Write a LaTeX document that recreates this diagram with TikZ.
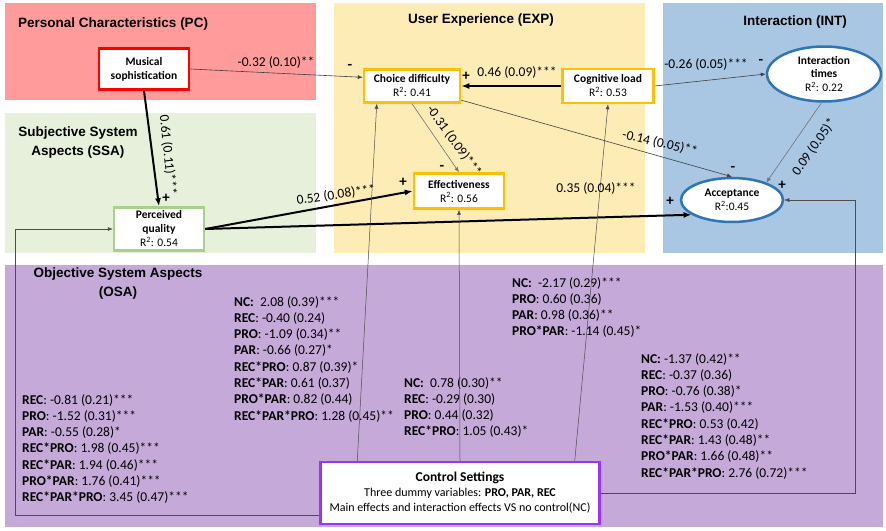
\documentclass[tikz,border=0pt]{standalone}
\usepackage{fontspec}
\setmainfont{Carlito}
\newfontfamily\hdsans{Liberation Sans}
\usetikzlibrary{arrows.meta,shapes.geometric}
\definecolor{pcred}{RGB}{255,155,155}
\definecolor{expyel}{RGB}{253,236,181}
\definecolor{intblue}{RGB}{169,198,226}
\definecolor{ssagreen}{RGB}{231,240,219}
\definecolor{osapurple}{RGB}{197,169,216}
\definecolor{boxorange}{RGB}{255,192,0}
\definecolor{boxgreen}{RGB}{169,209,142}
\definecolor{ellblue}{RGB}{46,117,182}
\definecolor{ctrlpurple}{RGB}{153,51,255}
\tikzset{
  header/.style={font=\hdsans\bfseries\fontsize{13.5}{19}\selectfont, align=center, inner sep=0pt},
  var/.style={rectangle, fill=white, line width=2.5pt, align=center, inner sep=0pt, font=\fontsize{11.5}{14}\selectfont},
  ell/.style={ellipse, draw=ellblue, fill=white, line width=2.5pt, align=center, inner sep=0pt, font=\fontsize{11.5}{14}\selectfont},
  coef/.style={font=\fontsize{13.5}{16}\selectfont, inner sep=0pt},
  sign/.style={font=\bfseries\fontsize{15}{15}\selectfont, inner sep=0pt},
  block/.style={font=\fontsize{13.5}{16.3}\selectfont, align=left, anchor=north west, inner sep=0pt},
  link/.style={-{Latex[length=5pt,width=4pt]}, line width=0.6pt, black!75},
  heavylink/.style={-{Latex[length=8pt,width=6pt]}, line width=2pt},
  ctrllink/.style={-{Latex[length=5pt,width=4pt]}, line width=0.5pt, black!70},
}
\begin{document}
\begin{tikzpicture}[x=1pt,y=-1pt]
\useasboundingbox (0,0) rectangle (886,530);
\fill[pcred] (5,3) rectangle (316,100);
\fill[ssagreen] (5,113) rectangle (316,253);
\fill[expyel] (334,3) rectangle (645,253);
\fill[intblue] (663,3) rectangle (883,253);
\fill[osapurple] (5,265) rectangle (883,527);

\node[header, anchor=west] (pc) at (18,24) {Personal Characteristics (PC)};
\node[header] (exp) at (481,20) {User Experience (EXP)};
\node[header] (int) at (795,22) {Interaction (INT)};
\node[header] (ssa) at (78,143) {Subjective System\\Aspects (SSA)};
\node[header] (osa) at (118,284) {Objective System Aspects\\(OSA)};

\node[var, draw=red, minimum width=90pt, minimum height=41pt, font=\bfseries\fontsize{11.5}{14}\selectfont] (mus) at (144,69) {Musical\\sophistication};
\node[var, draw=boxorange, minimum width=96pt, minimum height=33pt] (choice) at (412,86) {\textbf{Choice difficulty}\\R\textsuperscript{2}: 0.41};
\node[var, draw=boxorange, minimum width=91pt, minimum height=34pt] (cog) at (608,86) {\textbf{Cognitive load}\\R\textsuperscript{2}: 0.53};
\node[var, draw=boxorange, minimum width=90pt, minimum height=35pt] (eff) at (459,191) {\textbf{Effectiveness}\\R\textsuperscript{2}: 0.56};
\node[var, draw=boxgreen, minimum width=90pt, minimum height=43pt] (perc) at (159,229) {\textbf{Perceived}\\\textbf{quality}\\R\textsuperscript{2}: 0.54};
\node[ell, minimum width=114pt, minimum height=55pt] (inter) at (824,74) {\textbf{Interaction}\\\textbf{times}\\R\textsuperscript{2}: 0.22};
\node[ell, minimum width=102pt, minimum height=44pt] (acc) at (732,200) {\textbf{Acceptance}\\R\textsuperscript{2}:0.45};
\node[var, draw=ctrlpurple, minimum width=279pt, minimum height=62pt, font=\fontsize{12}{15}\selectfont] (ctrl) at (460,493) {{\fontsize{13.5}{16}\selectfont\textbf{Control Settings}}\\Three dummy variables: \textbf{PRO, PAR, REC}\\Main effects and interaction effects VS no control(NC)};

\node[block] (osapq) at (22,394) {\textbf{REC}: -0.81 (0.21)***\\\textbf{PRO}: -1.52 (0.31)***\\\textbf{PAR}: -0.55 (0.28)*\\\textbf{REC*PRO}: 1.98 (0.45)***\\\textbf{REC*PAR}: 1.94 (0.46)***\\\textbf{PRO*PAR}: 1.76 (0.41)***\\\textbf{REC*PAR*PRO}: 3.45 (0.47)***};
\node[block] (osacd) at (234,296) {\textbf{NC:}\ \ 2.08 (0.39)***\\\textbf{REC}: -0.40 (0.24)\\\textbf{PRO}: -1.09 (0.34)**\\\textbf{PAR}: -0.66 (0.27)*\\\textbf{REC*PRO}: 0.87 (0.39)*\\\textbf{REC*PAR}: 0.61 (0.37)\\\textbf{PRO*PAR}: 0.82 (0.44)\\\textbf{REC*PAR*PRO}: 1.28 (0.45)**};
\node[block] (osaeff) at (404,377) {\textbf{NC:}\ \ 0.78 (0.30)**\\\textbf{REC}: -0.29 (0.30)\\\textbf{PRO}: 0.44 (0.32)\\\textbf{REC*PRO}: 1.05 (0.43)*};
\node[block] (osacl) at (512,277) {\textbf{NC:}\ \ -2.17 (0.29)***\\\textbf{PRO}: 0.60 (0.36)\\\textbf{PAR}: 0.98 (0.36)**\\\textbf{PRO*PAR}: -1.14 (0.45)*};
\node[block] (osaacc) at (641,353) {\textbf{NC:} -1.37 (0.42)**\\\textbf{REC}: -0.37 (0.36)\\\textbf{PRO}: -0.76 (0.38)*\\\textbf{PAR}: -1.53 (0.40)***\\\textbf{REC*PRO}: 0.53 (0.42)\\\textbf{REC*PAR}: 1.43 (0.48)**\\\textbf{PRO*PAR}: 1.66 (0.48)**\\\textbf{REC*PAR*PRO}: 2.76 (0.72)***};

\draw[link] (mus.east) -- (choice.170);
\draw[heavylink] (mus.south) -- (perc.north);
\draw[heavylink] (cog.west) -- (choice.east);
\draw[link] (cog.east) -- (inter.west);
\draw[link, black!55] (choice.south) -- (eff.north);
\draw[link] (choice.-16) -- (acc.north);
\draw[heavylink] (perc.east) -- (eff.west);
\draw[heavylink] (perc.east) -- (acc.200);
\draw[link, black!55] (inter.-95) -- (acc.27);
\draw[ctrllink] ([xshift=38pt]ctrl.north west) -- ([xshift=14pt]choice.south west);
\draw[ctrllink] (ctrl.north) -- (eff.south);
\draw[ctrllink] ([xshift=-26pt]ctrl.north east) -- (cog.south);
\draw[ctrllink] ([yshift=-22pt]ctrl.west) -- ++(-304,0) |- (perc.west);
\draw[ctrllink] (ctrl.east) -- ++(254,0) |- (acc.east);

\node[coef] (l1) at (276,62) {-0.32 (0.10)**};
\node[sign] (s1) at (350,67) {-};
\node[coef, rotate=-84] (l2) at (168,155) {0.61 (0.11)***};
\node[sign] (s2) at (166,198) {+};
\node[coef] (l3) at (517,72) {0.46 (0.09)***};
\node[sign] (s3) at (466,76) {+};
\node[coef] (l4) at (706,64) {-0.26 (0.05)***};
\node[sign] (s4) at (761,62) {-};
\node[coef, rotate=-54] (l5) at (454,141) {-0.31 (0.09)***};
\node[sign] (s5) at (442,168) {-};
\node[coef, rotate=-13] (l6) at (660,143) {-0.14 (0.05)**};
\node[sign] (s6) at (733,169) {-};
\node[coef] (l7) at (596,188) {0.35 (0.04)***};
\node[coef, rotate=8] (l8) at (336,195) {0.52 (0.08)***};
\node[sign] (s8) at (403,182) {+};
\node[sign] (s9) at (670,201) {+};
\node[coef, rotate=55] (l9) at (814,147) {0.09 (0.05)*};
\node[sign] (s10) at (782,185) {+};
\end{tikzpicture}
\end{document}
